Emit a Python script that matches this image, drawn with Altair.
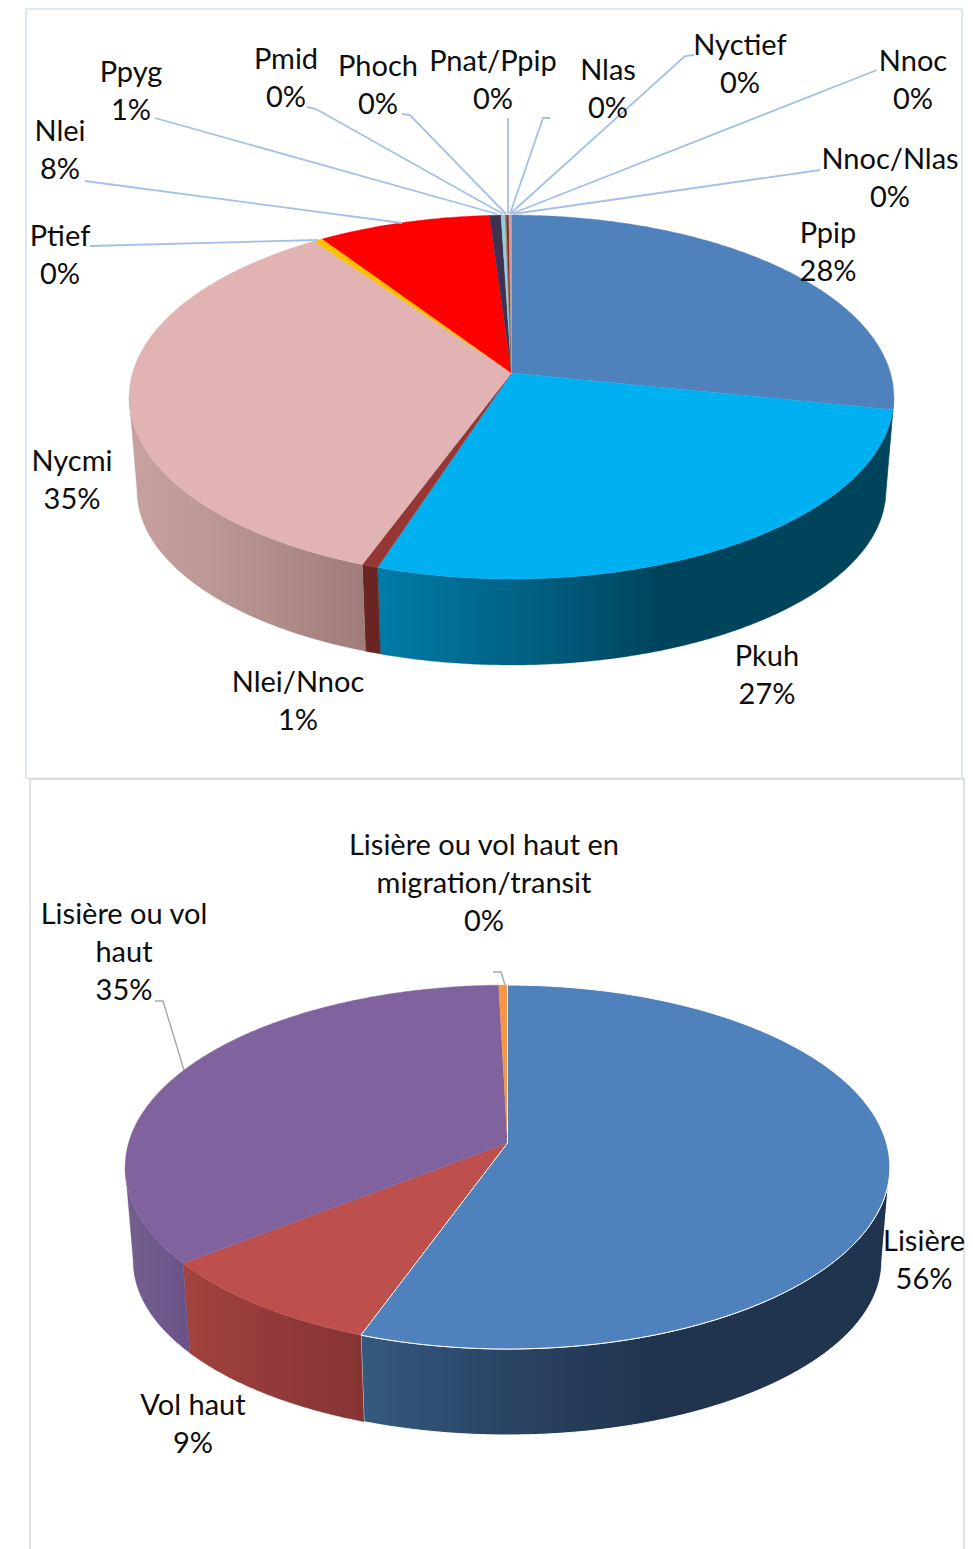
import numpy as np
import pandas as pd
import altair as alt

# ---------- data ----------
SPECIES = ["Ppip", "Pkuh", "Nlei/Nnoc", "Nycmi", "Ptief", "Nlei", "Ppyg", "Pmid",
           "Phoch", "Pnat/Ppip", "Nlas", "Nyctief", "Nnoc", "Nnoc/Nlas"]
SPECIES_SHARE = [28.2, 26.8, 0.6, 34.6, 0.45, 8.3, 0.55, 0.2,
                 0.03, 0.02, 0.12, 0.02, 0.09, 0.02]
HABITATS = ["Lisière", "Vol haut", "Lisière ou vol\nhaut", "Lisière ou vol haut en\nmigration/transit"]
HABITAT_SHARE = [55.5, 8.9, 35.18, 0.42]

# ---------- styles ----------
SPECIES_TOP = ["#4F81BD", "#00B0F0", "#953735", "#E2B3B3", "#FFC000", "#FF0000", "#3F3151", "#92CDDC",
               "#C0504D", "#9BBB59", "#8B2A2A", "#4BACC6", "#C9A0A8", "#F79646"]
SPECIES_SIDE = [
    [("#003F55", 0), ("#003F55", 1)],
    [("#007CA8", 0), ("#005F82", .3), ("#00445C", .55), ("#00445C", 1)],
    [("#6A2422", 0), ("#6A2422", 1)],
    [("#C8A2A0", 0), ("#B59290", .5), ("#9F7C7A", 1)],
] + [[("#444444", 0), ("#444444", 1)]] * 10
HABITAT_TOP = ["#4F81BD", "#BD4F4C", "#80629E", "#F79646"]
HABITAT_SIDE = [
    [("#35597F", 0), ("#2A4463", .28), ("#20344E", .55), ("#20344E", 1)],
    [("#A2443F", 0), ("#93393A", .5), ("#863432", 1)],
    [("#75608F", 0), ("#6A5288", 1)],
    [("#444444", 0), ("#444444", 1)],
]

K = 0.132
A_X, A_Y = 379.0, 178.8
FRONT = (97.6, 262.4)
DEPTH, FX, FY = 86.0, 0.979, 0.957

XD = [8, 965]
YD = [8, 1549]
ENC = dict(
    x=alt.X("x:Q", scale=alt.Scale(domain=XD, nice=False, zero=False), axis=None),
    y=alt.Y("y:Q", scale=alt.Scale(domain=YD, nice=False, zero=False, reverse=True), axis=None),
)


def project(t, cx, cy):
    r = np.radians(t)
    w = 1 + K * np.cos(r)
    return cx + A_X * np.sin(r) / w, cy - A_Y * np.cos(r) / w


def front_wall(t, cx, cy):
    x, y = project(t, cx, cy)
    low = cy + A_Y / (1 - K)
    return cx + FX * (x - cx), low + DEPTH + FY * (y - low)


def grad(stops):
    return alt.LinearGradient(
        gradient="linear", x1=0, x2=1, y1=0, y2=0,
        stops=[alt.GradientStop(color=c, offset=o) for c, o in stops])


def pie_layers(shares, tops, sides, cx, cy, outlined):
    wall, face = [], []
    edges = np.concatenate([[0], np.cumsum(shares)]) * 3.6
    for n, (t0, t1) in enumerate(zip(edges[:-1], edges[1:])):
        a, b = max(t0, FRONT[0]), min(t1, FRONT[1])
        white = n in outlined
        if b > a:
            ts = np.linspace(a, b, max(3, int((b - a) * 2)))
            x1, y1 = project(ts, cx, cy)
            x2, y2 = front_wall(ts[::-1], cx, cy)
            xs = np.r_[x1, x2, x1[0]]
            ys = np.r_[y1, y2, y1[0]]
            df = pd.DataFrame({"x": xs, "y": ys, "i": np.arange(len(xs))})
            wall.append(alt.Chart(df).mark_line(
                fill=grad(sides[n]),
                stroke="#FFFFFF" if white else sides[n][-1][0],
                strokeWidth=1 if white else 0.3).encode(order=alt.Order("i:Q"), **ENC))
        ts = np.linspace(t0, t1, max(3, int((t1 - t0) * 2)))
        x, y = project(ts, cx, cy)
        xs = np.r_[cx, x, cx]
        ys = np.r_[cy, y, cy]
        df = pd.DataFrame({"x": xs, "y": ys, "i": np.arange(len(xs))})
        face.append((n, alt.Chart(df).mark_line(
            fill=tops[n],
            stroke="#FFFFFF" if white else tops[n],
            strokeWidth=1 if white else 0.3).encode(order=alt.Order("i:Q"), **ENC)))
    face.sort(key=lambda p: p[0] in outlined)
    return wall + [f for _, f in face]


def leaders(paths, colour, width):
    rows = [{"p": p, "i": i, "x": x, "y": y}
            for p, pts in enumerate(paths) for i, (x, y) in enumerate(pts)]
    return alt.Chart(pd.DataFrame(rows)).mark_line(
        color=colour, strokeWidth=width).encode(detail="p:N", order=alt.Order("i:Q"), **ENC)


def labels(names, shares, spots):
    rows = [{"t": f"{n}\n{s:.0f}%", "x": p[0], "y": p[1]}
            for n, s, p in zip(names, shares, spots)]
    return alt.Chart(pd.DataFrame(rows)).mark_text(
        font="Lato", fontSize=29, lineHeight=38, lineBreak="\n",
        align="center", baseline="middle", color="#0D0D0D").encode(text="t:N", **ENC)


# ---------- layout ----------
SPECIES_SPOTS = [(828, 234), (767, 657), (298, 683), (72, 462), (60, 237), (60, 132), (131, 73),
                 (286, 60), (378, 67), (493, 62), (608, 71), (740, 46), (913, 62), (890, 160)]
SPECIES_LEADERS = [
    [(90, 246), (318, 240)],
    [(85, 181), (402, 223)],
    [(155, 118), (497, 214)],
    [(307, 107), (316, 109), (503, 214)],
    [(402, 114), (410, 115), (506, 214)],
    [(508, 118), (508, 214)],
    [(550, 118), (543, 118), (510, 214)],
    [(694, 55), (685, 56), (510, 214)],
    [(877, 70), (511, 214)],
    [(820, 170), (513, 214)],
]
HABITAT_SPOTS = [(924, 1242), (193, 1406), (124, 915), (484, 846)]
HABITAT_LEADERS = [
    [(155, 1001), (163, 1001), (184, 1070)],
    [(493, 972), (501, 972), (505, 985)],
]

chart = alt.layer(
    leaders([[(26, 778), (26, 9), (962, 9), (962, 778)]], "#D3E2F4", 1.6),
    leaders([[(30, 1549), (30, 779), (964, 779), (964, 1549)], [(26, 778.5), (965, 778.5)]], "#DADADA", 1.6),
    *pie_layers(SPECIES_SHARE, SPECIES_TOP, SPECIES_SIDE, 511.5, 373, []),
    leaders(SPECIES_LEADERS, "#A3C1E8", 1.8),
    labels(SPECIES, SPECIES_SHARE, SPECIES_SPOTS),
    *pie_layers(HABITAT_SHARE, HABITAT_TOP, HABITAT_SIDE, 507.5, 1143, [0]),
    leaders(HABITAT_LEADERS, "#A6A6A6", 1.4),
    labels(HABITATS, HABITAT_SHARE, HABITAT_SPOTS),
).properties(
    width=957, height=1541, padding=0, background="#FFFFFF",
    autosize=alt.AutoSizeParams(type="none"),
).configure_view(stroke=None)

chart.save("out.html", embed_options={"renderer": "svg", "actions": False})
